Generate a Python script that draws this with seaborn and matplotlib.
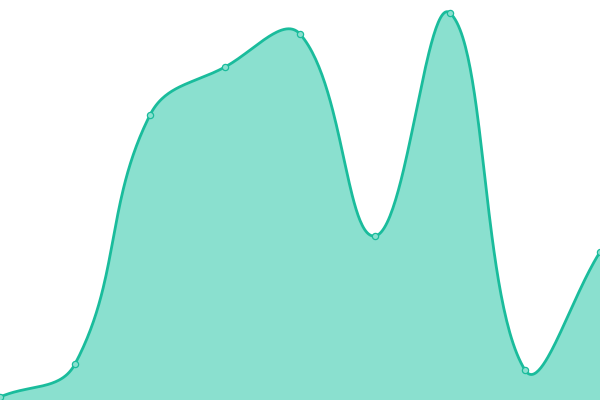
import numpy as np
import pandas as pd
import matplotlib
matplotlib.use("Agg")
import matplotlib.pyplot as plt
import seaborn as sns

# data
categories = list(range(9))
values = [3, 36, 285, 333, 366, 164, 387, 30, 148]

LINE = "#1abc9c"
FILL = "#8ae0cf"

sns.set_theme(style="white")
fig = plt.figure(figsize=(6, 4), dpi=100)
ax = fig.add_axes([0, 0, 1, 1])

# Chart.js-style spline (tension 0.4) computed in pixel space
px = np.array(categories, float) * 75.0
py = np.array(values, float)
t = 0.4
n = len(px)
cps = []
for i in range(n):
    prev = (px[max(i - 1, 0)], py[max(i - 1, 0)])
    cur = (px[i], py[i])
    nxt = (px[min(i + 1, n - 1)], py[min(i + 1, n - 1)])
    d01 = np.hypot(cur[0] - prev[0], cur[1] - prev[1])
    d12 = np.hypot(nxt[0] - cur[0], nxt[1] - cur[1])
    tot = d01 + d12
    s01 = d01 / tot if tot else 0
    s12 = d12 / tot if tot else 0
    fa, fb = t * s01, t * s12
    c1 = (cur[0] - fa * (nxt[0] - prev[0]), cur[1] - fa * (nxt[1] - prev[1]))
    c2 = (cur[0] + fb * (nxt[0] - prev[0]), cur[1] + fb * (nxt[1] - prev[1]))
    cps.append((c1, c2))

xs, ys = [], []
u = np.linspace(0, 1, 60)
for i in range(n - 1):
    p0 = np.array([px[i], py[i]])
    p1 = np.array(cps[i][1])
    p2 = np.array(cps[i + 1][0])
    p3 = np.array([px[i + 1], py[i + 1]])
    b = ((1 - u) ** 3)[:, None] * p0 + (3 * (1 - u) ** 2 * u)[:, None] * p1 \
        + (3 * (1 - u) * u ** 2)[:, None] * p2 + (u ** 3)[:, None] * p3
    xs.extend(b[:, 0]); ys.extend(b[:, 1])
xs = np.array(xs) / 75.0
ys = np.array(ys)

ax.fill_between(xs, 0, ys, color=FILL, lw=0, zorder=1)
ax.plot(xs, ys, color=LINE, lw=2.0, zorder=2, solid_capstyle="round")

df = pd.DataFrame({"x": categories, "y": values})
sns.scatterplot(data=df, x="x", y="y", ax=ax, s=20, color=FILL,
                edgecolor=LINE, linewidth=0.9, zorder=3, legend=False)
ax.set_xlim(0, 8)
ax.set_ylim(0, 400)
ax.set_axis_off()

fig.savefig("out.png", dpi=100)
